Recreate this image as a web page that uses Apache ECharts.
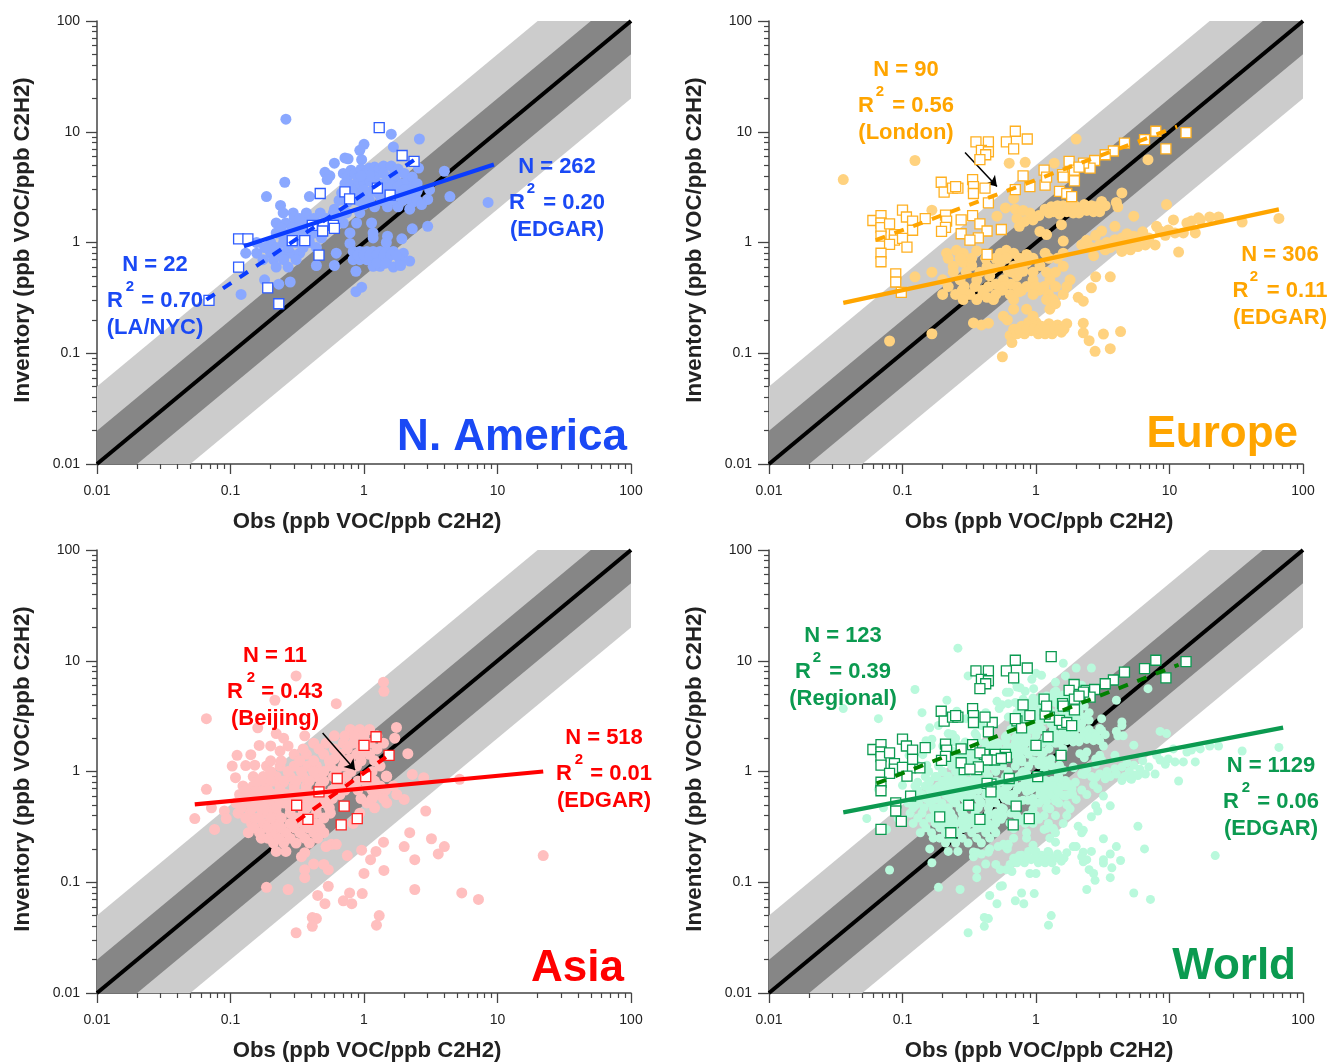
<!DOCTYPE html>
<html><head><meta charset="utf-8">
<style>html,body{margin:0;padding:0;background:#fff}#c{width:1327px;height:1063px}</style>
<script src="https://cdn.jsdelivr.net/npm/echarts@6/dist/echarts.min.js"></script>
</head><body><div id="c"></div>
<script>
const majorTicks=[0.01,0.1,1,10,100];
const minorTicks=[0.02,0.03,0.04,0.05,0.06,0.07,0.08,0.09,0.2,0.3,0.4,0.5,0.6,0.7,0.8,0.9,2,3,4,5,6,7,8,9,20,30,40,50,60,70,80,90];
const xTitle='Obs (ppb VOC/ppb C2H2)';
const yTitle='Inventory (ppb VOC/ppb C2H2)';
const oneToOne=[[0.01,0.01],[100,100]];
const band5=[[0.01,0.01],[0.01,0.05],[20,100],[100,100],[100,20],[0.05,0.01]];
const band2=[[0.01,0.01],[0.01,0.02],[50,100],[100,100],[100,50],[0.02,0.01]];

const naEdgar=[[0.26,13],[1.6,9.5],[2.6,8.6],[1.66,7.3],[1,7.7],[0.93,6.8],[0.72,5.8],[0.76,5.7],[0.6,5.2],[0.96,5.6],[0.51,4.3],[0.555,4],[0.53,3.7],[0.255,3.5],[0.186,2.6],[0.39,2.6],[0.237,2.16],[2.56,4.7],[4,4.4],[4.4,2.6],[8.5,2.3],[3,2.45],[3.1,3],[3,1.4],[2.3,1.33],
[0.7,4.2],[0.75,3.9],[0.8,4.5],[0.85,4.2],[0.9,3.8],[0.95,4.6],[1.05,4.3],[1.1,4.7],[1.2,4.8],[1.3,4.6],[1.4,4.9],[1.6,4.9],[1.8,4.6],[2,4.2],[0.72,3.4],[0.8,3.3],[0.9,3.2],[1,3.5],[1.1,3.6],[1.2,3.9],[1.3,3.4],[1.5,3.7],[1.7,3.8],[1.9,3.4],[2.1,3.5],[2.3,3.1],[2.5,2.9],[0.68,2.8],[0.78,2.7],[0.85,2.5],[0.95,2.8],[1.05,2.6],[1.15,2.9],[1.3,2.7],[1.5,2.9],[1.7,2.6],[1.9,2.8],[2.1,2.5],[2.3,2.3],[1,2.2],[1.2,2.1],[1.5,2.1],[1.8,2.1],[2.2,2],[0.6,2],
[0.65,2.4],[0.75,2.3],[0.9,2.4],[1.1,2.4],[1.35,2.4],[1.6,2.4],[1.95,2.4],[0.8,3],[1,3],[1.2,3.2],[1.4,3.1],[1.6,3.3],[1.8,3.2],[2,3],[2.2,2.7],[2.5,2.4],[2.7,2.2],[1.1,4],[1.4,4.2],[1.7,4.3],[0.95,4],[2.3,3.9],[2.5,3.4],
[0.248,1.85],[0.295,1.85],[0.37,1.85],[0.47,1.85],[0.59,1.85],[0.74,1.85],[0.93,1.85],[0.22,1.5],[0.26,1.5],[0.31,1.5],[0.37,1.5],[0.44,1.5],[0.52,1.5],[0.7,1.5],[0.88,1.5],[1.14,1.5],[0.22,1.22],[0.28,1.22],[0.35,1.22],[0.44,1.22],[0.785,1.22],[0.157,1],[0.2,1],[0.25,1],[0.31,1],[0.39,1],[0.785,0.98],[0.13,0.8],[0.157,0.8],[0.2,0.8],[0.235,0.8],[0.28,0.8],[0.33,0.8],[0.62,0.8],[0.175,0.7],[0.21,0.7],[0.25,0.7],[0.31,0.7],[0.44,0.62],[0.6,0.62],[0.87,0.55],[0.18,0.46],[0.23,0.42],[0.28,0.44],[0.12,0.34],[0.87,0.36],[0.96,0.395],
[0.3,1.7],[0.33,1.65],[0.42,1.65],[0.52,1.65],[0.65,1.65],[0.24,1.35],[0.29,1.35],[0.33,1.35],[0.4,1.35],[0.48,1.35],[0.6,1.35],[0.25,1.12],[0.32,1.12],[0.39,1.12],[0.48,1.1],[0.18,0.9],[0.22,0.9],[0.27,0.9],[0.35,0.9],[0.44,0.9],[0.27,0.6],[0.22,0.6],
[0.83,0.83],[0.93,0.83],[1.05,0.83],[1.17,0.83],[1.32,0.83],[1.48,0.83],[1.66,0.83],[1.97,0.8],[0.83,0.7],[0.93,0.7],[1.05,0.7],[1.17,0.7],[1.32,0.7],[1.48,0.7],[1.86,0.7],[2.2,0.68],[1.17,0.61],[1.32,0.61],[1.66,0.6],[1.17,1.22],[1.17,1.1],[1.5,1.14],[1.47,1],[1.92,1.08],
[0.9,0.77],[1,0.77],[1.1,0.77],[1.25,0.77],[1.4,0.77],[1.58,0.77],[1.75,0.77],[1.25,0.65],[1.45,0.65],[1.88,0.62]];
const naRegional=[[1.3,10.9],[1.93,6.1],[2.37,5.4],[1.26,3.1],[0.72,2.87],[0.47,2.77],[0.78,2.48],[1.57,2.68],[0.41,1.43],[0.495,1.43],[0.59,1.43],[0.6,1.34],[0.49,1.27],[0.29,1.04],[0.36,1.04],[0.115,1.08],[0.135,1.08],[0.46,0.77],[0.115,0.6],[0.19,0.39],[0.23,0.28],[0.069,0.3]];
const naFitEdgar=[[0.126,0.926],[9.4,5.06]];
const naFitRegional=[[0.066,0.305],[2.4,5.6]];

const euEdgar=[[0.036,3.7],[0.124,5.5],[2,8.6],[0.63,5.2],[0.83,5.3],[1.37,5.2],[6.9,5.6],[0.166,1.96],[9.5,2.2],[5.4,1.73],[1.6,1.03],[1.07,1.26],[1.2,1.18],[0.51,1.73],[0.59,2.05],[0.68,2.5],
[0.7,2],[0.8,1.95],[0.9,1.85],[1.05,1.75],[0.72,1.65],[0.82,1.55],[0.95,1.6],[0.75,1.4],
[1.17,2],[1.3,2.1],[1.4,1.95],[1.55,2.05],[1.7,1.9],[1.85,2.05],[2,1.95],[2.2,2.05],[2.4,1.95],[2.6,2.15],[2.9,2],[3.3,2.15],[1.5,1.8],[1.6,2.15],[1.25,1.85],[1.9,1.85],[2.3,2.2],[2.7,1.9],[3.1,2.35],[4,2.3],[4.4,2.8],[4.1,2.1],[1.55,1.45],
[1.35,1.9],[1.45,2.15],[1.75,2.1],[1.95,2.15],[2.1,1.85],[2.5,2.05],[2.8,2.1],[3,1.9],
[0.124,0.49],[0.166,0.54],[0.098,0.36],[0.08,0.129],[0.166,0.15],[0.56,0.093],[0.34,0.188],[0.39,0.18],[0.44,0.187],
[0.64,0.145],[0.68,0.165],[0.72,0.15],[0.78,0.175],[0.82,0.15],[0.88,0.19],[0.92,0.16],[1,0.19],[1.04,0.15],[1.1,0.175],[1.17,0.15],[1.25,0.185],[1.32,0.15],[1.45,0.18],[1.55,0.155],[1.7,0.185],[0.66,0.125],
[0.7,0.165],[0.75,0.165],[0.85,0.165],[0.96,0.165],[1.07,0.165],[1.15,0.165],[1.22,0.165],[1.38,0.165],[1.5,0.165],[1.62,0.165],
[2.26,0.187],[2.26,0.153],[2.5,0.13],[2.77,0.104],[3.6,0.11],[3.2,0.149],[4.3,0.157],[2.8,0.49],[3.6,0.49],[2.6,0.39],[2.07,0.32],[2.26,0.295],
[66,1.65],[35,1.53],[23.3,1.7],[20,1.7],[16.5,1.67],[14.6,1.56],[15.6,1.22],[10.7,1.6],[11.7,0.82],[12.7,1.22],[11,1.22],[9.3,1.16],[8.5,1.27],[7.8,0.95],[6.6,0.95],[5.4,1.14],[5.4,0.93],[4.4,0.83],[5.1,0.86],[3.9,1.06],[3.9,1.4],[3.1,1.27],[2.8,1.16],[3.3,0.86],[2.7,0.76],[2.2,0.95],[4.4,1.1],[3.4,1],[4.8,1.2],[7,1.1],[6,1.05],
[2.4,1.05],[2.6,0.9],[3,0.95],[3.6,0.9],[4,0.95],[4.6,0.9],[5,1],[5.8,0.92],[6.3,1.25],[8,1.4],[9.8,1.3],[13.5,1.5],[17,1.6],
[0.214,0.8],[0.254,0.85],[0.285,0.8],[0.36,0.84],[0.54,0.8],[0.6,0.85],[0.68,0.8],[0.85,0.78],[1.17,0.8],[1.6,0.8],[0.24,0.61],[0.285,0.66],[0.43,0.61],[0.54,0.66],[0.68,0.61],[0.85,0.66],[1.07,0.62],[1.6,0.61],[0.33,0.62],[0.48,0.58],
[0.22,0.72],[0.27,0.72],[0.33,0.72],[0.42,0.72],[0.5,0.72],[0.6,0.72],[0.75,0.72],[0.95,0.72],[1.25,0.72],[1.45,0.72],
[0.2,0.46],[0.27,0.46],[0.36,0.46],[0.45,0.5],[0.57,0.46],[0.72,0.5],[0.95,0.46],[1.27,0.46],[1.8,0.46],[0.62,0.55],[0.8,0.55],[0.5,0.42],[0.65,0.42],[0.85,0.4],
[0.24,0.54],[0.3,0.54],[0.38,0.54],[0.66,0.54],[0.75,0.54],[0.95,0.54],[1.2,0.54],[1.4,0.54],
[0.22,0.4],[0.29,0.4],[0.35,0.4],[0.44,0.4],[0.57,0.4],[0.72,0.4],[1,0.4],[1.15,0.4],[1.4,0.4],[1.7,0.4],[0.28,0.37],[0.4,0.37],[0.55,0.37],[0.78,0.37],[1.05,0.37],
[0.2,0.34],[0.25,0.34],[0.32,0.34],[0.4,0.34],[0.5,0.34],[0.64,0.34],[0.95,0.34],[1.24,0.34],[1.6,0.34],[0.285,0.305],[0.36,0.305],[0.48,0.305],[0.68,0.305],[1.2,0.305],[1.35,0.305],[0.43,0.32],[0.75,0.36],[0.68,0.25],[0.85,0.25],[1.27,0.25],[0.57,0.216],[0.95,0.216],[0.61,0.2],[1.4,0.28]];
const euRegional=[[0.7,10.1],[0.86,8.6],[0.6,8.1],[0.68,7],[0.355,8.1],[0.44,8.1],[0.39,6.8],[0.44,6.6],[0.42,6.2],[0.38,5.6],[0.195,3.5],[0.205,2.85],[0.237,3.1],[0.26,3.1],[0.25,3.2],[0.335,3.7],[0.34,3.2],[0.34,2.77],[0.415,3.1],[0.44,2.28],
[0.1,1.96],[0.107,1.7],[0.06,1.58],[0.069,1.75],[0.069,1.5],[0.069,1.36],[0.08,1.47],[0.119,1.56],[0.119,1.29],[0.148,1.64],[0.087,1.18],[0.069,1.14],[0.087,1.05],[0.1,1.09],[0.08,0.96],[0.108,0.91],[0.069,0.8],[0.069,0.67],[0.089,0.52],[0.089,0.44],[0.098,0.355],
[0.21,1.77],[0.214,1.56],[0.21,1.37],[0.196,1.26],[0.275,1.6],[0.335,1.75],[0.275,1.2],[0.38,1.47],[0.43,1.27],[0.37,1.1],[0.32,1.05],[0.55,1.31],[0.43,0.78],
[13.3,9.8],[7.9,10.1],[9.4,7],[6.5,8.5],[4.6,7.9],[3.8,6.7],[3.3,6.2],[2.75,5.5],[2.54,4.7],[2.27,5.2],[1.77,5.4],[1.94,4.5],[1.94,3.6],[1.58,4.1],[1.15,4.5],[1.17,3.3],[0.9,3.2],[0.8,4],[0.7,3],[1.5,2.9],[1.7,2.77],[1.85,2.6],[1.2,3.9],[1.6,3.9],[2.1,4.8]];
const euFitEdgar=[[0.036,0.285],[66,1.99]];
const euFitRegional=[[0.063,1.05],[11.4,11.1]];
const euArrow=[[0.294,6.5],[0.51,3.2]];

const asEdgar=[[0.066,3],[0.31,7.3],[1.4,6.4],[1.41,5.3],[0.215,4.4],[0.62,4.1],[0.16,2.48],[0.066,0.69],[0.054,0.376],[0.072,0.47],[0.076,0.3],[0.09,0.44],[0.093,0.376],
[0.112,1.4],[0.142,1.42],[0.103,1.12],[0.13,1.13],[0.152,1.14],[0.109,0.88],[0.164,1.72],[0.2,1.7],[0.22,2.2],[0.25,2],[0.235,1.53],[0.27,1.7],[0.36,2.1],
[22,0.174],[7.2,0.07],[5.4,0.08],[4,0.21],[3.6,0.18],[3.2,0.247],[2.9,0.44],[2.8,0.88],[2.3,0.94],[5.2,0.85],[2.2,0.28],[2,0.21],[2.4,0.16],[2.4,0.086],[1.41,0.128],[1.4,0.23],[1.23,0.19],[1.12,0.16],[1,0.12],[0.96,0.195],[0.75,0.174],[0.54,0.092],[0.45,0.076],[0.51,0.064],[0.7,0.068],[0.81,0.064],[0.78,0.08],[0.97,0.079],[1.3,0.05],[1.24,0.041],[0.41,0.048],[0.44,0.047],[0.41,0.04],[0.31,0.035],[0.186,0.09],[0.27,0.086],[0.36,0.11],[0.36,0.13],[0.54,0.13],[0.5,0.145],[0.42,0.146],[0.36,0.185],[0.34,0.17],[0.57,0.22],[0.52,0.21],[0.62,0.22],
[1.75,2.5],[1.7,2],[2.13,1.45],[1.47,0.91],[2,0.56],
[0.79,2.4],[0.93,2.4],[1.1,2.4],[0.42,1.8],[0.52,1.8],[0.7,1.8],[0.83,1.8],[1.11,1.8],[1.4,1.8],[0.3,1.43],[0.37,1.43],[0.5,1.43],[0.66,1.43],[0.88,1.43],[1.1,1.43],
[0.186,1.12],[0.235,1.12],[0.3,1.12],[0.38,1.12],[0.44,1.12],[0.56,1.12],[0.7,1.12],[0.88,1.12],[1.32,1.12],[0.148,0.9],[0.176,0.9],[0.22,0.9],[0.28,0.9],[0.35,0.9],[0.44,0.9],[0.59,0.9],[0.74,0.9],[1.05,0.9],[1.48,0.9],
[0.124,0.74],[0.148,0.74],[0.186,0.74],[0.235,0.74],[0.3,0.74],[0.37,0.74],[0.47,0.74],[0.62,0.74],[0.78,0.74],[1.05,0.74],[1.32,0.74],[1.66,0.74],[0.117,0.62],[0.14,0.62],[0.165,0.62],[0.21,0.62],[0.26,0.62],[0.33,0.62],[0.42,0.62],[0.52,0.62],[0.66,0.62],[1.24,0.62],[1.76,0.62],
[0.11,0.52],[0.132,0.52],[0.161,0.52],[0.197,0.52],[0.25,0.52],[0.31,0.52],[0.39,0.52],[0.5,0.52],[1.05,0.52],[1.48,0.52],[0.114,0.42],[0.14,0.42],[0.176,0.42],[0.22,0.42],[0.28,0.42],[0.35,0.42],[0.44,0.42],[0.56,0.42],[0.93,0.42],[0.144,0.34],[0.176,0.34],[0.22,0.34],[0.28,0.34],[0.35,0.34],[0.44,0.34],[0.83,0.34],
[0.136,0.28],[0.165,0.28],[0.21,0.28],[0.26,0.28],[0.33,0.28],[0.42,0.28],[0.5,0.28],[0.21,0.226],[0.25,0.226],[0.31,0.226],[0.39,0.226],[0.22,0.19],[0.26,0.19],
[0.16,0.68],[0.2,0.47],[0.25,0.8],[0.3,0.56],[0.37,0.47],[0.45,0.55],[0.21,0.82],[0.27,1],[0.34,1],[0.42,1],[0.5,1],[0.62,1],[0.8,1],[1.15,1],[0.33,0.38],[0.24,0.38],[0.17,0.46],[0.6,1.3],[0.78,1.3],[1,1.5],
[0.16,0.82],[0.2,0.82],[0.25,0.82],[0.31,0.82],[0.39,0.82],[0.5,0.82],[0.66,0.82],[0.9,0.82],[1.2,0.82],
[0.13,0.68],[0.19,0.68],[0.235,0.68],[0.3,0.68],[0.37,0.68],[0.47,0.68],[0.58,0.68],[0.72,0.68],[0.9,0.68],[1.15,0.68],[1.45,0.68],
[0.125,0.57],[0.15,0.57],[0.18,0.57],[0.23,0.57],[0.29,0.57],[0.37,0.57],[0.47,0.57],[0.58,0.57],[0.95,0.57],[1.15,0.57],[1.4,0.57],
[0.12,0.47],[0.145,0.47],[0.18,0.47],[0.22,0.47],[0.28,0.47],[0.35,0.47],[0.44,0.47],[0.55,0.47],[1.2,0.47],
[0.13,0.38],[0.16,0.38],[0.2,0.38],[0.31,0.38],[0.39,0.38],[0.5,0.38],[0.15,0.31],[0.19,0.31],[0.24,0.31],[0.3,0.31],[0.38,0.31],[0.47,0.31],[0.17,0.25],[0.19,0.25],[0.23,0.25],[0.28,0.25],[0.36,0.25],[0.45,0.25],
[0.2,1],[0.24,1.25],[0.33,1.25],[0.42,1.25],[0.55,1.25],[0.72,1.25],[0.95,1.25],[1.2,1.25],[0.2,1.25],[0.35,1.6],[0.46,1.6],[0.6,1.6],[0.75,1.6],[0.95,1.6],[1.25,1.6],[0.6,2.1],[0.72,2.1],[0.85,2.1],[1,2.1],[1.25,2.1]];
const asRegional=[[1.23,2.06],[1,1.72],[1.54,1.4],[1.03,0.9],[0.63,0.865],[0.46,0.655],[0.71,0.486],[0.313,0.496],[0.38,0.37],[0.675,0.33],[0.89,0.376]];
const asFitEdgar=[[0.054,0.504],[22,1]];
const asFitRegional=[[0.313,0.355],[1.5,1.38]];
const asArrow=[[0.49,2.23],[0.857,1.03]];

const wdOtherEdgar=[[0.3,3],[0.35,2.2],[0.45,2.5],[0.5,1.8],[0.42,3.4],[0.62,3.1],[0.15,1.9],[0.85,0.96],[1.3,1.3],[1.6,1.6],[2.4,1.5],[3.2,1.7],[2.8,1.3],[0.1,0.75],[0.12,0.6],[0.45,0.2],[0.85,0.28],[1.15,0.3],[1.7,0.5],[2.4,0.62],[2.9,0.7],[3.2,0.6],[1.9,0.21],[2.6,0.19],[3.2,0.16],[2.2,0.17],[2.7,0.12],[3.7,0.135],[5.8,0.32],[6.5,0.2],[0.16,0.2],[0.6,0.13],[0.7,6.5],[1.1,7.4],[2.2,6],[4.5,2.1],[0.2,1.25],[0.28,1.35],[1.05,1.15],[0.7,0.45],[1.9,1.1],[0.14,3.4],[0.9,0.12]];
const wdFitEdgar=[[0.036,0.428],[71,2.49]];
const wdFitRegional=[[0.064,0.78],[11.7,9.2]];

const panels=[
 {left:97,top:21,name:'N. America',nameX:627,nameY:438,circ:'#8AA8FF',line:'#0A3CFF',dash:'#0A3CFF',txt:'#1A49F5',sq:'#2E5CFF',size:11,edgar:naEdgar,regional:naRegional,fitE:naFitEdgar,fitR:naFitRegional,
  notes:[['N = 262','R   = 0.20','(EDGAR)',557,167,531],['N = 22','R   = 0.70','(LA/NYC)',155,265,130]]},
 {left:769,top:21,name:'Europe',nameX:1298,nameY:435,circ:'#FFD27F',line:'#FFA500',dash:'#FFA500',txt:'#FFA500',sq:'#FFB020',size:11,edgar:euEdgar,regional:euRegional,fitE:euFitEdgar,fitR:euFitRegional,arrow:euArrow,
  notes:[['N = 90','R   = 0.56','(London)',906,70,880],['N = 306','R   = 0.11','(EDGAR)',1280,255,1254]]},
 {left:97,top:550,name:'Asia',nameX:624,nameY:969,circ:'#FFBFBF',line:'#FF0000',dash:'#FF0000',txt:'#FF0000',sq:'#FF2020',size:11,edgar:asEdgar,regional:asRegional,fitE:asFitEdgar,fitR:asFitRegional,arrow:asArrow,
  notes:[['N = 11','R   = 0.43','(Beijing)',275,656,251],['N = 518','R   = 0.01','(EDGAR)',604,738,579]]},
 {left:769,top:550,name:'World',nameX:1296,nameY:967,circ:'#B9F9DC',line:'#0B9A50',dash:'#008000',txt:'#0B9A50',sq:'#0B9A50',size:9,edgar:naEdgar.concat(euEdgar,asEdgar,wdOtherEdgar),regional:naRegional.concat(euRegional,asRegional),fitE:wdFitEdgar,fitR:wdFitRegional,
  notes:[['N = 123','R   = 0.39','(Regional)',843,636,817],['N = 1129','R   = 0.06','(EDGAR)',1271,766,1246]]}
];

const W=534,H=443,FONT='"Liberation Sans",Arial,sans-serif';
const grid=[],xAxis=[],yAxis=[],series=[],graphic=[];
function text(t,x,y,size,fill,align){graphic.push({type:'text',x,y,z:100,silent:true,style:{text:t,fill,font:'bold '+size+'px '+FONT,align:align||'center',verticalAlign:'middle',textAlign:align||'center',textVerticalAlign:'middle'}});}
function band(i,corners,fill,z){
 series.push({type:'custom',xAxisIndex:2*i,yAxisIndex:2*i,coordinateSystem:'cartesian2d',silent:true,z,clip:true,data:corners,encode:{x:0,y:1},
  renderItem(p,api){ if(p.dataIndex!==0) return; return {type:'polygon',shape:{points:corners.map(c=>api.coord(c))},style:{fill}}; }});
}
panels.forEach((p,i)=>{
 grid.push({left:p.left,top:p.top,width:W,height:H});
 const common={type:'log',logBase:10,min:0.01,max:100,splitLine:{show:false},gridIndex:i,axisLine:{onZero:false,show:true,lineStyle:{color:'#444',width:1.5}}};
 xAxis.push({...common,position:'bottom',name:xTitle,nameLocation:'middle',nameGap:47,nameTextStyle:{fontFamily:FONT,fontWeight:'bold',fontSize:22.2,color:'#222',padding:[0,0,0,6]},
  axisTick:{show:true,length:10,inside:false,lineStyle:{color:'#444',width:1.3},customValues:majorTicks},
  axisLabel:{show:true,fontFamily:FONT,fontSize:14,color:'#222',margin:20,formatter:v=>String(+v),customValues:majorTicks}});
 xAxis.push({...common,position:'bottom',axisLine:{show:false},axisLabel:{show:false},axisTick:{show:true,length:5,lineStyle:{color:'#444',width:1.2},customValues:minorTicks}});
 yAxis.push({...common,position:'left',name:yTitle,nameLocation:'middle',nameGap:63,nameTextStyle:{fontFamily:FONT,fontWeight:'bold',fontSize:22.2,color:'#222',padding:[0,0,0,5]},
  axisTick:{show:true,length:11,lineStyle:{color:'#444',width:1.3},customValues:majorTicks},
  axisLabel:{show:true,fontFamily:FONT,fontSize:14,color:'#222',margin:17,formatter:v=>String(+v),customValues:majorTicks}});
 yAxis.push({...common,position:'left',axisLine:{show:false},axisLabel:{show:false},axisTick:{show:true,length:5,lineStyle:{color:'#444',width:1.2},customValues:minorTicks}});
 const ax={xAxisIndex:2*i,yAxisIndex:2*i};
 band(i,band5,'#CCCCCC',1);
 band(i,band2,'#868686',2);
 series.push({type:'line',...ax,data:oneToOne,symbol:'none',silent:true,z:3,lineStyle:{color:'#000',width:4}});
 series.push({type:'scatter',...ax,data:p.edgar,symbol:'circle',symbolSize:p.size,silent:true,z:4,itemStyle:{color:p.circ,opacity:1}});
 series.push({type:'scatter',...ax,data:p.regional,symbol:'rect',symbolSize:10,silent:true,z:5,itemStyle:{color:'#fff',borderColor:p.sq,borderWidth:1.3,opacity:1}});
 const lineCfg={type:'line',...ax,symbol:'none',silent:true,z:6};
 series.push({...lineCfg,data:p.fitR,lineStyle:{color:p.dash,width:4,type:[10,10]},
  markLine:p.arrow?{silent:true,animation:false,symbolSize:10,label:{show:false},lineStyle:{color:'#000',width:1.5,type:'solid'},data:[[{coord:p.arrow[0],symbol:'none'},{coord:p.arrow[1],symbol:'arrow'}]]}:undefined});
 series.push({...lineCfg,z:7,data:p.fitE,lineStyle:{color:p.line,width:4.2}});
 text(p.name,p.nameX,p.nameY,44,p.txt,'right');
 p.notes.forEach(n=>{
  text(n[0],n[3],n[4],22,p.txt);
  text(n[1],n[3],n[4]+36,22,p.txt);
  text('2',n[5],n[4]+22,15,p.txt);
  text(n[2],n[3],n[4]+63,22,p.txt);
 });
});
const chart=echarts.init(document.getElementById('c'),null,{renderer:'canvas'});
chart.setOption({animation:false,backgroundColor:'#fff',grid,xAxis,yAxis,series,graphic:{elements:graphic}});
</script></body></html>
